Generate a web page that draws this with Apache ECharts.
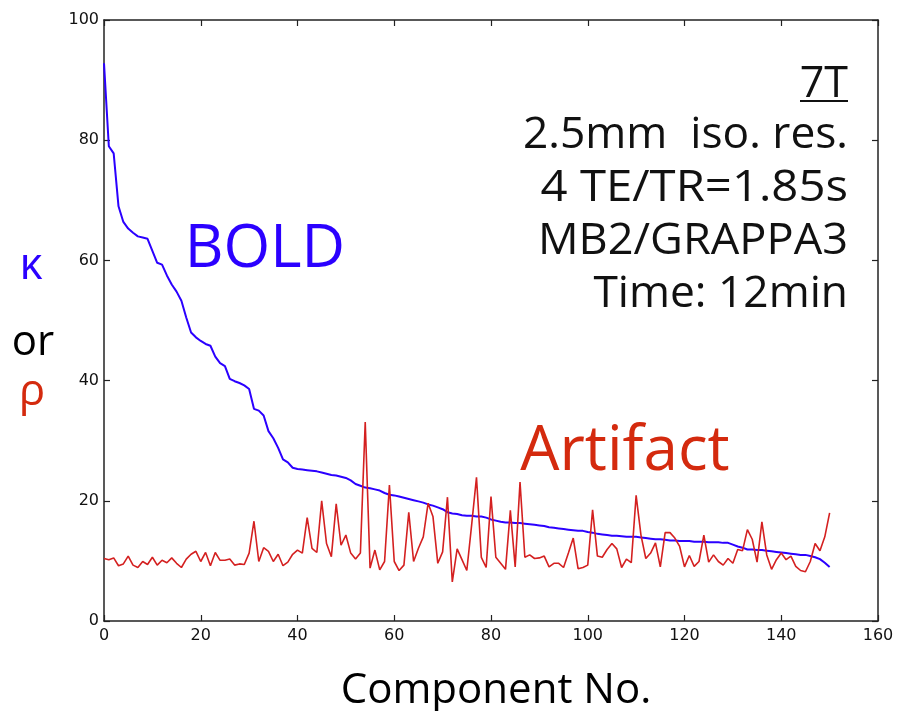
<!DOCTYPE html>
<html><head><meta charset="utf-8">
<script src="https://cdn.jsdelivr.net/npm/echarts@6/dist/echarts.min.js"></script>
<style>html,body{margin:0;padding:0;background:#fff}#c{width:905px;height:711px}</style>
</head><body><div id="c"></div>
<script>
// kappa (BOLD), sorted, component 0..150
const kappa = [
92.8,79.0,77.8,69.0,66.4,65.3,64.6,64.0,63.8,63.6,
61.6,59.6,59.3,57.5,56.0,54.8,53.3,50.5,48.0,47.2,
46.6,46.1,45.8,44.0,42.9,42.4,40.3,39.9,39.6,39.2,
38.6,35.3,35.0,34.2,31.6,30.4,28.8,26.9,26.4,25.5,
25.3,25.2,25.1,25.0,24.9,24.7,24.5,24.3,24.2,24.0,
23.8,23.4,22.8,22.5,22.2,22.1,21.9,21.7,21.3,21.0,
20.9,20.7,20.5,20.3,20.1,19.9,19.7,19.4,19.2,18.9,
18.6,18.1,17.9,17.8,17.6,17.5,17.5,17.4,17.4,17.2,
16.9,16.7,16.5,16.4,16.4,16.3,16.3,16.2,16.1,16.0,
15.9,15.8,15.6,15.5,15.4,15.3,15.2,15.1,15.0,15.0,
14.8,14.7,14.5,14.4,14.3,14.2,14.2,14.1,14.0,14.0,
14.0,13.9,13.8,13.7,13.6,13.6,13.5,13.4,13.4,13.3,
13.3,13.3,13.2,13.2,13.2,13.1,13.1,13.1,13.0,13.0,
12.7,12.4,12.2,11.9,11.9,11.8,11.8,11.7,11.6,11.5,
11.4,11.3,11.2,11.1,11.0,11.0,10.8,10.6,10.3,9.7,
9.0];
// rho (Artifact), component 0..150
const rho = [
10.4,10.2,10.5,9.2,9.5,10.8,9.3,8.9,9.9,9.4,
10.6,9.3,10.1,9.7,10.5,9.6,8.9,10.3,11.1,11.6,
9.9,11.4,9.2,11.4,10.1,10.1,10.3,9.3,9.5,9.4,
11.3,16.6,9.9,12.2,11.6,9.9,11.1,9.2,9.8,11.1,
11.8,11.3,17.2,12.1,11.4,20.0,12.9,10.7,19.5,12.6,
14.3,11.3,10.3,11.3,33.1,8.8,11.8,8.5,9.9,22.6,
9.9,8.4,9.3,18.1,9.9,12.1,14.0,19.6,17.4,9.6,
11.5,20.6,6.5,12.0,10.2,8.4,16.0,23.9,10.6,8.9,
20.7,10.6,9.6,8.6,18.4,9.0,23.1,10.6,11.0,10.4,
10.5,10.8,9.0,9.6,9.6,8.9,11.3,13.8,8.7,8.9,
9.3,18.5,10.8,10.6,11.9,12.9,12.0,8.9,10.3,9.7,
20.9,14.3,10.4,11.3,13.0,9.0,14.7,14.7,13.8,12.4,
9.0,10.9,9.1,9.9,14.3,9.8,11.0,9.9,9.3,10.4,
9.6,11.9,11.7,15.2,13.6,9.8,16.5,11.0,8.6,10.2,
11.3,10.2,10.8,9.1,8.4,8.2,9.9,12.9,11.7,14.0,
18.0];
const xTicks = [0,20,40,60,80,100,120,140,160];
const yTicks = [0,20,40,60,80,100];
const infoLines = ["2.5mm  iso. res.","4 TE/TR=1.85s","MB2/GRAPPA3","Time: 12min"];

const kappaData = kappa.map((v,i)=>[i,v]);
const rhoData = rho.map((v,i)=>[i,v]);

const axisCol = '#222';
const lblFont = {fontFamily:'DejaVu Sans', fontSize:16, color:'#111'};
function xAx(pos, show){
  return {type:'value', position:pos, min:xTicks[0], max:xTicks[xTicks.length-1], interval:20,
    axisLine:{show:true, onZero:false, lineStyle:{color:axisCol, width:1.5}},
    axisTick:{show:true, inside:true, length:6, lineStyle:{color:axisCol, width:1.2}},
    axisLabel:Object.assign({show:show, margin:7}, lblFont),
    splitLine:{show:false}};
}
function yAx(pos, show){
  return {type:'value', position:pos, min:yTicks[0], max:yTicks[yTicks.length-1], interval:20,
    axisLine:{show:true, onZero:false, lineStyle:{color:axisCol, width:1.5}},
    axisTick:{show:true, inside:true, length:6, lineStyle:{color:axisCol, width:1.2}},
    axisLabel:Object.assign({show:show, margin:5}, lblFont),
    splitLine:{show:false}};
}
const graphics = [
  {type:'text', style:{text:'BOLD', x:265, y:250, textAlign:'center', textVerticalAlign:'middle', font:'60px "Open Sans"', fill:'#2b00ff'}},
  {type:'text', style:{text:'Artifact', x:625, y:452, textAlign:'center', textVerticalAlign:'middle', font:'62px "Open Sans"', fill:'#d42a0e'}},
  {type:'text', style:{text:'Component No.', x:496, y:691, textAlign:'center', textVerticalAlign:'middle', font:'42px "Open Sans"', fill:'#000'}},
  {type:'text', style:{text:'κ', x:31, y:266, textAlign:'center', textVerticalAlign:'middle', font:'44px "Open Sans"', fill:'#2b00ff'}},
  {type:'text', style:{text:'or', x:33, y:343, textAlign:'center', textVerticalAlign:'middle', font:'42px "Open Sans"', fill:'#000'}},
  {type:'text', style:{text:'ρ', x:32, y:392, textAlign:'center', textVerticalAlign:'middle', font:'44px "Open Sans"', fill:'#d42a0e'}},
  {type:'text', style:{text:'7T', x:848, y:85, textAlign:'right', textVerticalAlign:'middle', font:'43px "Open Sans"', fill:'#111'}},
  {type:'line', shape:{x1:800, y1:101, x2:848, y2:101}, style:{stroke:'#111', lineWidth:2}}
];
const infoScale = [1.03, 1.1, 1.05, 1.03];
infoLines.forEach((t,i)=>{
  graphics.push({type:'text', x:848, y:136+i*53, scaleX:infoScale[i],
    style:{text:t, x:0, y:0, textAlign:'right', textVerticalAlign:'middle', font:'43px "Open Sans"', fill:'#111'}});
});

const chart = echarts.init(document.getElementById('c'), null, {renderer:'canvas'});
chart.setOption({
  backgroundColor:'#fff',
  animation:false,
  grid:{left:104, right:27, top:20, bottom:90, containLabel:false},
  xAxis:[xAx('bottom', true), xAx('top', false)],
  yAxis:[yAx('left', true), yAx('right', false)],
  series:[
    {type:'line', data:kappaData, showSymbol:false, symbol:'none', lineStyle:{color:'#2b00ff', width:2}, z:2},
    {type:'line', data:rhoData, showSymbol:false, symbol:'none', lineStyle:{color:'#d42020', width:1.6}, z:3}
  ],
  graphic:graphics
});
</script></body></html>
